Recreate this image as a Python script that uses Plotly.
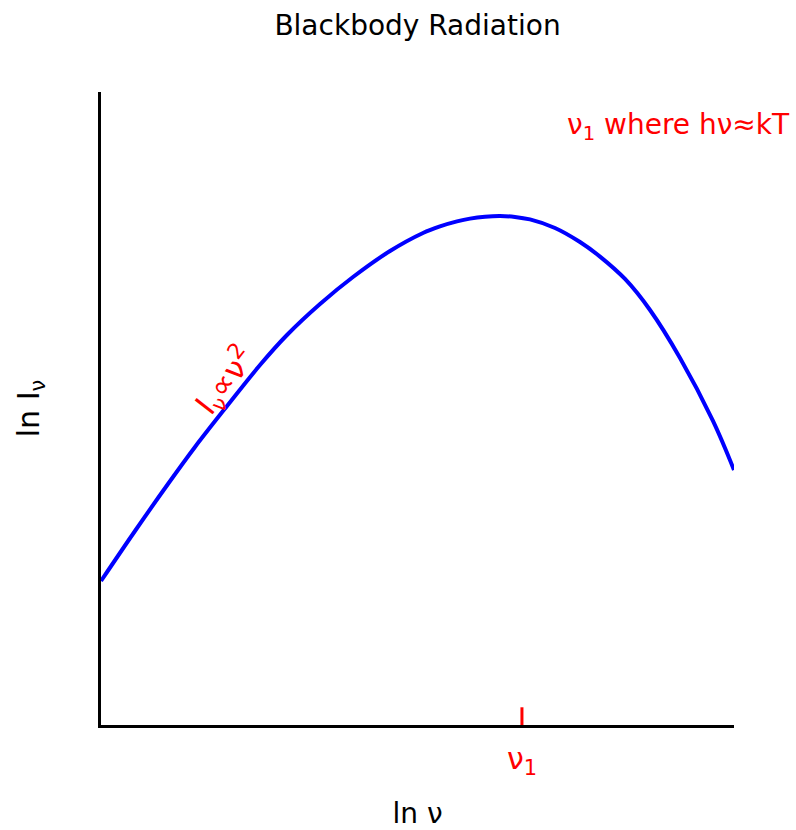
import plotly.graph_objects as go

# Blackbody spectrum in log-log form (arbitrary units)
ln_nu = [0.000, 0.537, 1.058, 1.485, 1.991, 2.512, 2.938, 3.460, 3.981, 4.566,
         5.087, 5.355, 5.624, 5.829, 6.066, 6.303, 6.540, 6.777, 7.172, 7.567,
         7.883, 8.278, 8.673, 9.147, 9.668, 10.000]
ln_I = [2.275, 3.065, 3.807, 4.392, 5.039, 5.687, 6.161, 6.651, 7.077, 7.488,
        7.773, 7.877, 7.956, 8.000, 8.030, 8.041, 8.027, 7.987, 7.852, 7.630,
        7.400, 7.046, 6.556, 5.798, 4.803, 4.028]

# Frequency where h*nu ~ kT, and the height of its marker tick
nu1 = 6.65
nu1_tick = [0.0, 0.28]

x_range = [0, 10]
y_range = [0, 10]

RED = "#ff0000"
BLUE = "#0000ff"
FONT = "DejaVu Sans"

fig = go.Figure()

fig.add_trace(go.Scatter(
    x=ln_nu, y=ln_I, mode="lines",
    line=dict(color=BLUE, width=4, shape="spline", smoothing=1.0),
    hoverinfo="skip", showlegend=False,
))

fig.add_trace(go.Scatter(
    x=[nu1, nu1], y=nu1_tick, mode="lines",
    line=dict(color=RED, width=3),
    hoverinfo="skip", showlegend=False, cliponaxis=False,
))

fig.add_annotation(
    x=nu1, y=0, xref="x", yref="y", yanchor="top", yshift=-14,
    text="ν<sub>1</sub>", showarrow=False,
    font=dict(family=FONT, size=30, color=RED),
)

fig.add_annotation(
    x=1.0, y=1.0, xref="paper", yref="paper", xanchor="right", yanchor="top",
    xshift=58, yshift=-14,
    text="ν<sub>1</sub> where hν≈kT", showarrow=False,
    font=dict(family=FONT, size=28, color=RED),
)

fig.add_annotation(
    x=1.97, y=5.44, xref="x", yref="y",
    text="I<sub>ν</sub>∝ν<sup>2</sup>", showarrow=False, textangle=-52,
    font=dict(family=FONT, size=31, color=RED),
)

fig.update_layout(
    width=796, height=830,
    margin=dict(l=101, r=62, t=92, b=105, autoexpand=False),
    paper_bgcolor="white", plot_bgcolor="white",
    title=dict(text="Blackbody Radiation", x=0.5245, xanchor="center",
               y=0.97, yanchor="middle",
               font=dict(family=FONT, size=28, color="black")),
    font=dict(family=FONT, color="black"),
)

fig.update_xaxes(
    range=x_range, showline=True, linecolor="black", linewidth=3,
    showgrid=False, zeroline=False, showticklabels=False, ticks="",
    automargin=False,
    title=dict(text="ln ν", font=dict(family=FONT, size=28), standoff=83),
)
fig.update_yaxes(
    range=y_range, showline=True, linecolor="black", linewidth=3,
    showgrid=False, zeroline=False, showticklabels=False, ticks="",
    automargin=False,
    title=dict(text="ln I<sub>ν</sub>", font=dict(family=FONT, size=30), standoff=50),
)

fig.write_html("out.html")
